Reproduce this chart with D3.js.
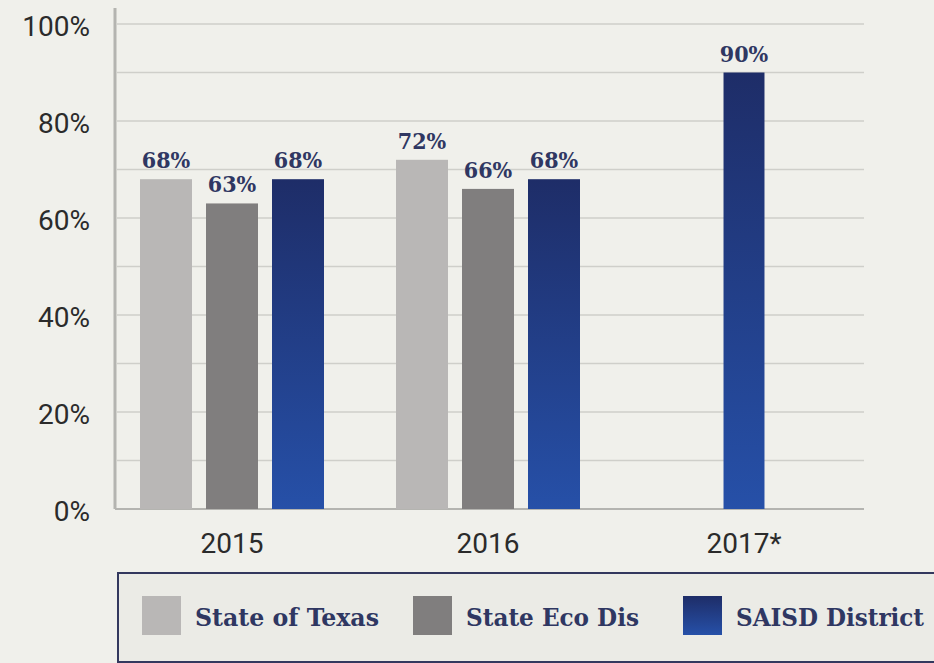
<!DOCTYPE html>
<html>
<head>
<meta charset="utf-8">
<script src="https://cdn.jsdelivr.net/npm/d3@7/dist/d3.min.js"></script>
<style>
  html, body { margin: 0; padding: 0; background: #f0f0eb; }
  svg { display: block; }
  .tick-label { font-family: Roboto, sans-serif; font-size: 28px; fill: #2b2b2b; }
  .value-label { font-family: "DejaVu Serif Condensed", "DejaVu Serif", serif; font-weight: bold; font-size: 23px; fill: #2f3762; }
  .legend-label { font-family: "DejaVu Serif Condensed", "DejaVu Serif", serif; font-weight: bold; font-size: 25px; fill: #2f3762; }
</style>
</head>
<body>
<svg id="chart" width="934" height="663"></svg>
<script>
'use strict';

// Chart data.
const categories = ['2015', '2016', '2017*'];
const seriesNames = ['State of Texas', 'State Eco Dis', 'SAISD District'];
const stateOfTexas = [68, 72, null];
const stateEcoDis = [63, 66, null];
const saisdDistrict = [68, 68, 90];
const yTicks = [0, 20, 40, 60, 80, 100];
const yGridTicks = [10, 20, 30, 40, 50, 60, 70, 80, 90, 100];

const seriesValues = [stateOfTexas, stateEcoDis, saisdDistrict];
const colors = ['#b9b7b6', '#807e7e', 'url(#blueGrad)'];

const margin = { top: 24, right: 70, bottom: 154, left: 115 };
const width = 934, height = 663;
const chartWidth = width - margin.left - margin.right;
const chartHeight = height - margin.top - margin.bottom;

const svg = d3.select('#chart');

// Vertical gradient for the district bars.
const grad = svg.append('defs').append('linearGradient')
  .attr('id', 'blueGrad')
  .attr('x1', 0).attr('y1', 0).attr('x2', 0).attr('y2', 1);
grad.append('stop').attr('offset', '0%').attr('stop-color', '#1e2d68');
grad.append('stop').attr('offset', '100%').attr('stop-color', '#2650a8');

const g = svg.append('g')
  .attr('transform', `translate(${margin.left},${margin.top})`);

const x = d3.scaleBand()
  .domain(categories)
  .range([-11, chartWidth + 8]);

const y = d3.scaleLinear()
  .domain([0, 100])
  .range([chartHeight, 0]);

// Gridlines every 10%.
g.append('g')
  .selectAll('line')
  .data(yGridTicks)
  .join('line')
  .attr('x1', 2)
  .attr('x2', chartWidth)
  .attr('y1', d => y(d))
  .attr('y2', d => y(d))
  .attr('stroke', '#cfcfca')
  .attr('stroke-width', 1.5);

// Y axis labels.
const yAxis = g.append('g')
  .call(d3.axisLeft(y).tickValues(yTicks).tickFormat(d => d + '%').tickSize(0).tickPadding(25));
yAxis.select('.domain').remove();
yAxis.selectAll('text')
  .attr('class', 'tick-label')
  .attr('dy', '0.42em')
  .attr('font-size', null)
  .attr('font-family', null);

// X axis labels.
const xAxis = g.append('g')
  .attr('transform', `translate(0,${chartHeight})`)
  .call(d3.axisBottom(x).tickSize(0).tickPadding(24));
xAxis.select('.domain').remove();
xAxis.selectAll('text')
  .attr('class', 'tick-label')
  .attr('font-size', null)
  .attr('font-family', null);

// Baseline and left axis line.
g.append('line')
  .attr('x1', 0).attr('x2', chartWidth)
  .attr('y1', chartHeight).attr('y2', chartHeight)
  .attr('stroke', '#b4b4b0').attr('stroke-width', 2);
g.append('line')
  .attr('x1', 0).attr('x2', 0)
  .attr('y1', -16).attr('y2', chartHeight)
  .attr('stroke', '#b4b4b0').attr('stroke-width', 3);

// Bars: only the series that have a value are drawn, centred in their group.
const barStep = 66, barGap = 14;
categories.forEach((cat, ci) => {
  const present = seriesNames.filter((s, si) => seriesValues[si][ci] != null);
  const span = present.length * barStep - barGap;
  const inner = d3.scaleBand()
    .domain(present)
    .range([-span / 2, span / 2])
    .paddingInner(barGap / barStep);
  const center = x(cat) + x.bandwidth() / 2;
  const rows = present.map(s => {
    const si = seriesNames.indexOf(s);
    return { series: s, value: seriesValues[si][ci], color: colors[si] };
  });

  const grp = g.append('g').attr('transform', `translate(${center},0)`);
  grp.selectAll('rect')
    .data(rows)
    .join('rect')
    .attr('x', d => inner(d.series))
    .attr('y', d => y(d.value))
    .attr('width', inner.bandwidth())
    .attr('height', d => chartHeight - y(d.value))
    .attr('fill', d => d.color);

  grp.selectAll('text')
    .data(rows)
    .join('text')
    .attr('class', 'value-label')
    .attr('x', d => inner(d.series) + inner.bandwidth() / 2)
    .attr('y', d => y(d.value) - 11)
    .attr('text-anchor', 'middle')
    .text(d => d.value + '%');
});

// Legend box.
const legend = svg.append('g').attr('transform', 'translate(118,573)');
legend.append('rect')
  .attr('width', 840)
  .attr('height', 89)
  .attr('fill', '#ebebe6')
  .attr('stroke', '#33385e')
  .attr('stroke-width', 2);

const legendX = [24, 295, 565];
const legendW = [184, 173, 188];
const items = legend.selectAll('g.item')
  .data(seriesNames)
  .join('g')
  .attr('class', 'item')
  .attr('transform', (d, i) => `translate(${legendX[i]},23)`);
items.append('rect')
  .attr('width', 39)
  .attr('height', 39)
  .attr('fill', (d, i) => colors[i]);
items.append('text')
  .attr('class', 'legend-label')
  .attr('x', 53)
  .attr('y', 30)
  .attr('textLength', (d, i) => legendW[i])
  .attr('lengthAdjust', 'spacingAndGlyphs')
  .text(d => d);
</script>
</body>
</html>
